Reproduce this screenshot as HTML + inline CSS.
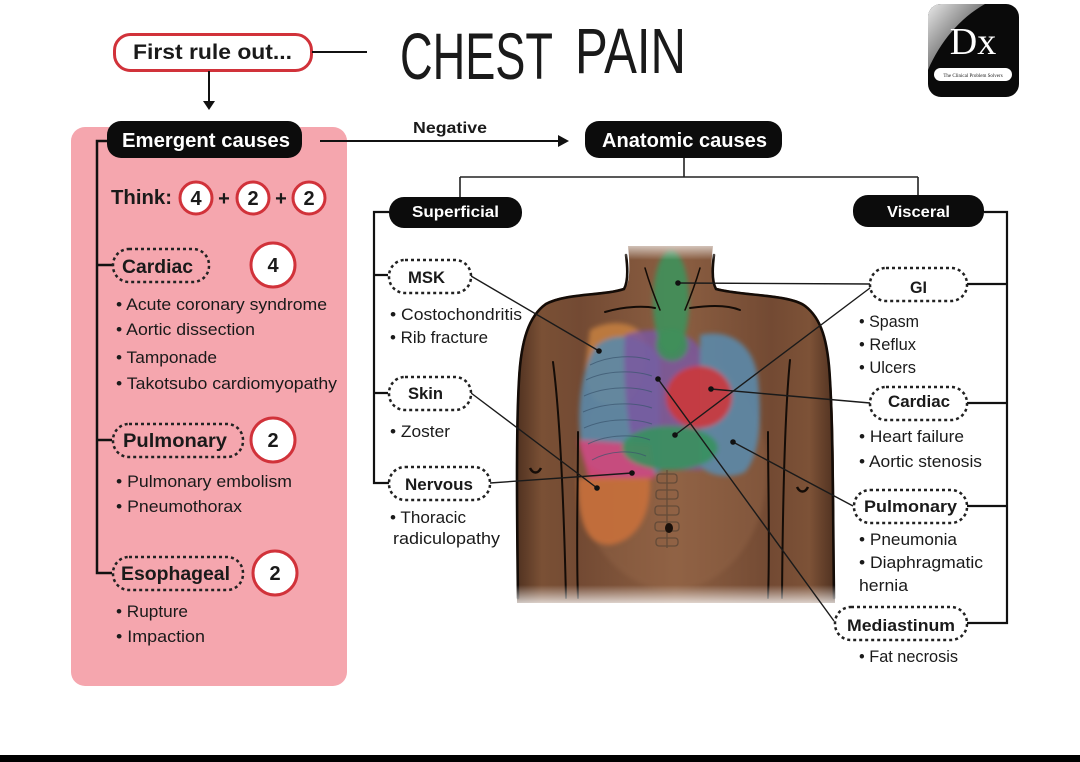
<!DOCTYPE html>
<html><head><meta charset="utf-8">
<style>
html,body{margin:0;padding:0;background:#fff;}
svg{display:block;}
text{font-family:"Liberation Sans",Arial,sans-serif;fill:#1a1a1a;}
.b{font-weight:bold;}
.w{fill:#fff;}
.it{font-size:17px;}
</style></head>
<body>
<svg width="1080" height="762" viewBox="0 0 1080 762" xmlns="http://www.w3.org/2000/svg">
<defs>
<linearGradient id="skin" x1="0" x2="1" y1="0" y2="0">
<stop offset="0" stop-color="#4f3120"/>
<stop offset="0.08" stop-color="#7a5035"/>
<stop offset="0.2" stop-color="#734a33"/>
<stop offset="0.5" stop-color="#8c5f42"/>
<stop offset="0.8" stop-color="#734a33"/>
<stop offset="0.92" stop-color="#7d5237"/>
<stop offset="1" stop-color="#4f3120"/>
</linearGradient>
<linearGradient id="fadeTop" x1="0" x2="0" y1="0" y2="1">
<stop offset="0" stop-color="#fff" stop-opacity="1"/>
<stop offset="1" stop-color="#fff" stop-opacity="0"/>
</linearGradient>
<linearGradient id="fadeBot" x1="0" x2="0" y1="0" y2="1">
<stop offset="0" stop-color="#fff" stop-opacity="0"/>
<stop offset="1" stop-color="#fff" stop-opacity="0.9"/>
</linearGradient>
<linearGradient id="logoG" x1="0" x2="1" y1="0" y2="1">
<stop offset="0" stop-color="#e8e8e8"/>
<stop offset="0.6" stop-color="#6a6a6a"/>
<stop offset="1" stop-color="#111"/>
</linearGradient>
<filter id="bl" x="-20%" y="-20%" width="140%" height="140%"><feGaussianBlur stdDeviation="2.5"/></filter>
</defs>

<!-- Title -->
<text x="400" y="79" font-size="66" textLength="153" lengthAdjust="spacingAndGlyphs">CHEST</text>
<text x="575" y="73" font-size="64" textLength="111" lengthAdjust="spacingAndGlyphs">PAIN</text>

<!-- Logo -->
<rect x="928" y="4" width="91" height="93" rx="13" fill="#0a0a0a"/>
<path d="M941 4 L985 4 C960 18 940 42 928 70 L928 17 C928 10 934 4 941 4 Z" fill="url(#logoG)"/>
<text x="973" y="54" font-size="38" text-anchor="middle" style="font-family:'Liberation Serif',serif;fill:#fff">Dx</text>
<rect x="934" y="68" width="78" height="13" rx="6.5" fill="#fff"/>
<text x="973" y="77" font-size="5" text-anchor="middle" style="font-family:'Liberation Serif',serif">The Clinical Problem Solvers</text>

<!-- First rule out -->
<rect x="114.5" y="34.5" width="197" height="36" rx="16" fill="#fff" stroke="#d1323a" stroke-width="3"/>
<text x="133" y="59" font-size="21" class="b" textLength="159" lengthAdjust="spacingAndGlyphs">First rule out...</text>
<line x1="312" y1="52" x2="367" y2="52" stroke="#111" stroke-width="2"/>
<line x1="209" y1="71" x2="209" y2="104" stroke="#111" stroke-width="2"/>
<path d="M203 101 L209 110 L215 101 Z" fill="#111"/>

<!-- Pink box -->
<rect x="71" y="127" width="276" height="559" rx="14" fill="#f5a6ae"/>

<!-- Emergent pill -->
<rect x="107" y="121" width="195" height="37" rx="14" fill="#0c0c0c"/>
<text x="122" y="147" font-size="20" class="b w" textLength="168" lengthAdjust="spacingAndGlyphs">Emergent causes</text>

<!-- Negative arrow -->
<line x1="320" y1="141" x2="562" y2="141" stroke="#111" stroke-width="2"/>
<path d="M558 135 L569 141 L558 147 Z" fill="#111"/>
<text x="413" y="133" font-size="16" class="b" textLength="74" lengthAdjust="spacingAndGlyphs">Negative</text>

<!-- Anatomic pill -->
<rect x="585" y="121" width="197" height="37" rx="14" fill="#0c0c0c"/>
<text x="602" y="147" font-size="20" class="b w" textLength="165" lengthAdjust="spacingAndGlyphs">Anatomic causes</text>

<!-- Anatomic tree -->
<path d="M684 158 V177 M460 177 H918 M460 177 V197 M918 177 V195" stroke="#222" stroke-width="1.6" fill="none"/>
<rect x="389" y="197" width="133" height="31" rx="15" fill="#0c0c0c"/>
<text x="412" y="217" font-size="16" class="b w" textLength="87" lengthAdjust="spacingAndGlyphs">Superficial</text>
<rect x="853" y="195" width="131" height="32" rx="15" fill="#0c0c0c"/>
<text x="887" y="217" font-size="16" class="b w" textLength="63" lengthAdjust="spacingAndGlyphs">Visceral</text>

<!-- Left bracket -->
<path d="M107 141 H97 V573 H112 M97 265 H113 M97 440 H112" stroke="#111" stroke-width="2.5" fill="none"/>

<!-- Think -->
<text x="111" y="204" font-size="20" class="b" textLength="61" lengthAdjust="spacingAndGlyphs">Think:</text>
<circle cx="196" cy="198" r="16" fill="#fff" stroke="#d1323a" stroke-width="3"/>
<circle cx="253" cy="198" r="16" fill="#fff" stroke="#d1323a" stroke-width="3"/>
<circle cx="309" cy="198" r="16" fill="#fff" stroke="#d1323a" stroke-width="3"/>
<text x="196" y="205" font-size="20" class="b" text-anchor="middle">4</text>
<text x="253" y="205" font-size="20" class="b" text-anchor="middle">2</text>
<text x="309" y="205" font-size="20" class="b" text-anchor="middle">2</text>
<text x="224" y="205" font-size="20" class="b" text-anchor="middle">+</text>
<text x="281" y="205" font-size="20" class="b" text-anchor="middle">+</text>

<!-- Emergent Cardiac -->
<rect x="113" y="249" width="96" height="33" rx="16" fill="none" stroke="#222" stroke-width="2.5" stroke-dasharray="3 3"/>
<text x="122" y="273" font-size="19" class="b" textLength="71" lengthAdjust="spacingAndGlyphs">Cardiac</text>
<circle cx="273" cy="265" r="22" fill="#fff" stroke="#d1323a" stroke-width="3"/>
<text x="273" y="272" font-size="20" class="b" text-anchor="middle">4</text>
<text x="116" y="310" class="it" textLength="211" lengthAdjust="spacingAndGlyphs">• Acute coronary syndrome</text>
<text x="116" y="335" class="it" textLength="139" lengthAdjust="spacingAndGlyphs">• Aortic dissection</text>
<text x="116" y="363" class="it" textLength="101" lengthAdjust="spacingAndGlyphs">• Tamponade</text>
<text x="116" y="389" class="it" textLength="221" lengthAdjust="spacingAndGlyphs">• Takotsubo cardiomyopathy</text>

<!-- Emergent Pulmonary -->
<rect x="113" y="424" width="130" height="33" rx="16" fill="none" stroke="#222" stroke-width="2.5" stroke-dasharray="3 3"/>
<text x="123" y="447" font-size="19" class="b" textLength="104" lengthAdjust="spacingAndGlyphs">Pulmonary</text>
<circle cx="273" cy="440" r="22" fill="#fff" stroke="#d1323a" stroke-width="3"/>
<text x="273" y="447" font-size="20" class="b" text-anchor="middle">2</text>
<text x="116" y="487" class="it" textLength="176" lengthAdjust="spacingAndGlyphs">• Pulmonary embolism</text>
<text x="116" y="512" class="it" textLength="126" lengthAdjust="spacingAndGlyphs">• Pneumothorax</text>

<!-- Emergent Esophageal -->
<rect x="113" y="557" width="130" height="33" rx="16" fill="none" stroke="#222" stroke-width="2.5" stroke-dasharray="3 3"/>
<text x="121" y="580" font-size="19" class="b" textLength="109" lengthAdjust="spacingAndGlyphs">Esophageal</text>
<circle cx="275" cy="573" r="22" fill="#fff" stroke="#d1323a" stroke-width="3"/>
<text x="275" y="580" font-size="20" class="b" text-anchor="middle">2</text>
<text x="116" y="617" class="it" textLength="72" lengthAdjust="spacingAndGlyphs">• Rupture</text>
<text x="116" y="642" class="it" textLength="89" lengthAdjust="spacingAndGlyphs">• Impaction</text>

<!-- Body -->
<g>
<path d="M628 246 C630 265 630 280 626 287 C605 295 565 292 545 303 C528 315 520 340 518 380 C515 430 516 520 517 603 L835 603 C834 520 835 430 831 380 C829 340 822 318 806 305 C790 293 740 295 714 287 C711 278 711 262 713 246 Z" fill="url(#skin)"/>
<ellipse cx="672" cy="470" rx="95" ry="120" fill="#9a6b4c" opacity="0.35" filter="url(#bl)"/>
<g filter="url(#bl)">
<path d="M590 330 C610 318 640 322 645 340 C648 370 640 400 620 405 C598 408 585 395 585 370 Z" fill="#c7803e" opacity="0.85"/>
<path d="M597 345 C615 330 650 335 660 360 L660 472 C640 482 600 480 585 462 C575 430 578 370 597 345 Z" fill="#5b88a8" opacity="0.9"/>
<path d="M625 335 C650 325 695 330 700 350 L702 470 L640 470 C628 440 622 380 625 335 Z" fill="#7a58a0" opacity="0.85"/>
<path d="M700 335 C730 328 755 345 758 380 C762 420 760 455 745 472 C730 480 705 475 700 465 Z" fill="#5b88a8" opacity="0.9"/>
<ellipse cx="699" cy="397" rx="33" ry="31" fill="#c8393f" opacity="0.95"/>
<path d="M578 440 L650 445 L655 478 L590 482 Z" fill="#d2467a" opacity="0.9"/>
<path d="M578 478 L650 478 C652 510 640 540 610 545 C585 545 578 520 578 478 Z" fill="#c8703a" opacity="0.9"/>
<ellipse cx="670" cy="448" rx="48" ry="22" fill="#3a9060" opacity="0.92"/>
<ellipse cx="671" cy="302" rx="18" ry="52" fill="#3f8f5a" opacity="0.92"/>
<circle cx="672" cy="345" r="16" fill="#3f8f5a" opacity="0.9"/>
</g>
<g stroke="#3a556e" stroke-width="1" fill="none" opacity="0.7">
<path d="M590 365 C610 355 635 355 650 360"/>
<path d="M586 380 C606 370 635 370 652 376"/>
<path d="M584 396 C606 386 635 386 652 392"/>
<path d="M583 412 C606 402 635 402 652 408"/>
<path d="M584 428 C606 418 635 418 652 424"/>
<path d="M588 444 C608 434 635 434 650 440"/>
<path d="M592 460 C610 450 632 450 646 456"/>
</g>
<g fill="none" stroke="#5b4636" stroke-width="1.3" opacity="0.8">
<rect x="657" y="474" width="20" height="9" rx="3"/>
<rect x="656" y="490" width="22" height="9" rx="3"/>
<rect x="655" y="506" width="24" height="9" rx="3"/>
<rect x="655" y="522" width="24" height="9" rx="3"/>
<rect x="656" y="538" width="22" height="8" rx="3"/>
<line x1="667" y1="470" x2="667" y2="548"/>
</g>
<ellipse cx="669" cy="528" rx="4" ry="5" fill="#1a100a"/>
<g stroke="#140c07" stroke-width="2.6" fill="none" stroke-linecap="round">
<path d="M626 255 C628 270 628 282 624 289 C603 296 566 293 546 304 C529 316 521 340 519 380 C516 430 517 520 518 598"/>
<path d="M714 255 C712 270 712 282 716 289 C741 296 789 294 805 306 C821 318 828 340 830 380 C833 430 833 520 834 598"/>
<path d="M553 362 C558 400 563 470 566 598" stroke-width="2"/>
<path d="M578 432 C578 480 576 550 578 598" stroke-width="2"/>
<path d="M790 360 C786 400 783 470 782 598" stroke-width="2"/>
<path d="M768 432 C768 480 770 550 768 598" stroke-width="2"/>
<path d="M605 312 C625 306 645 306 655 308" stroke-width="2"/>
<path d="M690 308 C705 306 725 304 740 310" stroke-width="2"/>
<path d="M645 268 C650 285 655 298 660 310" stroke-width="1.5"/>
<path d="M700 268 C695 285 690 298 685 310" stroke-width="1.5"/>
</g>
<path d="M530 468 C533 474 538 474 541 468" stroke="#140c07" stroke-width="2.5" fill="none"/>
<path d="M797 487 C800 493 805 493 808 487" stroke="#140c07" stroke-width="2.5" fill="none"/>
<rect x="505" y="238" width="340" height="22" fill="url(#fadeTop)"/>
<rect x="505" y="585" width="340" height="22" fill="url(#fadeBot)"/>
</g>

<!-- Connectors -->
<g stroke="#1a1a1a" stroke-width="1.4" fill="none">
<line x1="471" y1="276" x2="599" y2="351"/>
<line x1="471" y1="393" x2="597" y2="488"/>
<line x1="490" y1="483" x2="632" y2="473"/>
<line x1="678" y1="283" x2="870" y2="284"/>
<line x1="675" y1="435" x2="870" y2="288"/>
<line x1="711" y1="389" x2="870" y2="403"/>
<line x1="733" y1="442" x2="853" y2="506"/>
<line x1="658" y1="379" x2="834" y2="621"/>
</g>
<g fill="#111">
<circle cx="599" cy="351" r="2.8"/>
<circle cx="597" cy="488" r="2.8"/>
<circle cx="632" cy="473" r="2.8"/>
<circle cx="678" cy="283" r="2.8"/>
<circle cx="675" cy="435" r="2.8"/>
<circle cx="711" cy="389" r="2.8"/>
<circle cx="733" cy="442" r="2.8"/>
<circle cx="658" cy="379" r="2.8"/>
</g>

<!-- Superficial bracket -->
<path d="M389 212 H374 V483 H389 M374 275 H388 M374 393 H388" stroke="#111" stroke-width="2.2" fill="none"/>
<rect x="389" y="260" width="82" height="33" rx="16" fill="#fff" stroke="#222" stroke-width="2.5" stroke-dasharray="3 3"/>
<text x="408" y="283" font-size="17" class="b" textLength="37" lengthAdjust="spacingAndGlyphs">MSK</text>
<text x="390" y="320" class="it" textLength="132" lengthAdjust="spacingAndGlyphs">• Costochondritis</text>
<text x="390" y="343" class="it" textLength="98" lengthAdjust="spacingAndGlyphs">• Rib fracture</text>
<rect x="389" y="377" width="82" height="33" rx="16" fill="#fff" stroke="#222" stroke-width="2.5" stroke-dasharray="3 3"/>
<text x="408" y="399" font-size="17" class="b" textLength="35" lengthAdjust="spacingAndGlyphs">Skin</text>
<text x="390" y="437" class="it" textLength="60" lengthAdjust="spacingAndGlyphs">• Zoster</text>
<rect x="389" y="467" width="101" height="33" rx="16" fill="#fff" stroke="#222" stroke-width="2.5" stroke-dasharray="3 3"/>
<text x="405" y="490" font-size="17" class="b" textLength="68" lengthAdjust="spacingAndGlyphs">Nervous</text>
<text x="390" y="523" class="it" textLength="76" lengthAdjust="spacingAndGlyphs">• Thoracic</text>
<text x="393" y="544" class="it" textLength="107" lengthAdjust="spacingAndGlyphs">radiculopathy</text>

<!-- Visceral bracket -->
<path d="M984 212 H1007 V623 H967 M1007 284 H967 M1007 403 H967 M1007 506 H967" stroke="#111" stroke-width="2.2" fill="none"/>
<rect x="870" y="268" width="97" height="33" rx="16" fill="#fff" stroke="#222" stroke-width="2.5" stroke-dasharray="3 3"/>
<text x="910" y="293" font-size="17" class="b" textLength="17" lengthAdjust="spacingAndGlyphs">GI</text>
<text x="859" y="327" class="it" textLength="60" lengthAdjust="spacingAndGlyphs">• Spasm</text>
<text x="859" y="350" class="it" textLength="57" lengthAdjust="spacingAndGlyphs">• Reflux</text>
<text x="859" y="373" class="it" textLength="57" lengthAdjust="spacingAndGlyphs">• Ulcers</text>
<rect x="870" y="387" width="97" height="33" rx="16" fill="#fff" stroke="#222" stroke-width="2.5" stroke-dasharray="3 3"/>
<text x="888" y="407" font-size="17" class="b" textLength="62" lengthAdjust="spacingAndGlyphs">Cardiac</text>
<text x="859" y="442" class="it" textLength="105" lengthAdjust="spacingAndGlyphs">• Heart failure</text>
<text x="859" y="467" class="it" textLength="123" lengthAdjust="spacingAndGlyphs">• Aortic stenosis</text>
<rect x="854" y="490" width="113" height="33" rx="16" fill="#fff" stroke="#222" stroke-width="2.5" stroke-dasharray="3 3"/>
<text x="864" y="512" font-size="17" class="b" textLength="93" lengthAdjust="spacingAndGlyphs">Pulmonary</text>
<text x="859" y="545" class="it" textLength="98" lengthAdjust="spacingAndGlyphs">• Pneumonia</text>
<text x="859" y="568" class="it" textLength="124" lengthAdjust="spacingAndGlyphs">• Diaphragmatic</text>
<text x="859" y="591" class="it" textLength="49" lengthAdjust="spacingAndGlyphs">hernia</text>
<rect x="835" y="607" width="132" height="33" rx="16" fill="#fff" stroke="#222" stroke-width="2.5" stroke-dasharray="3 3"/>
<text x="847" y="631" font-size="17" class="b" textLength="108" lengthAdjust="spacingAndGlyphs">Mediastinum</text>
<text x="859" y="662" class="it" textLength="99" lengthAdjust="spacingAndGlyphs">• Fat necrosis</text>

<!-- bottom band -->
<rect x="0" y="755" width="1080" height="7" fill="#000"/>
</svg>
</body></html>
